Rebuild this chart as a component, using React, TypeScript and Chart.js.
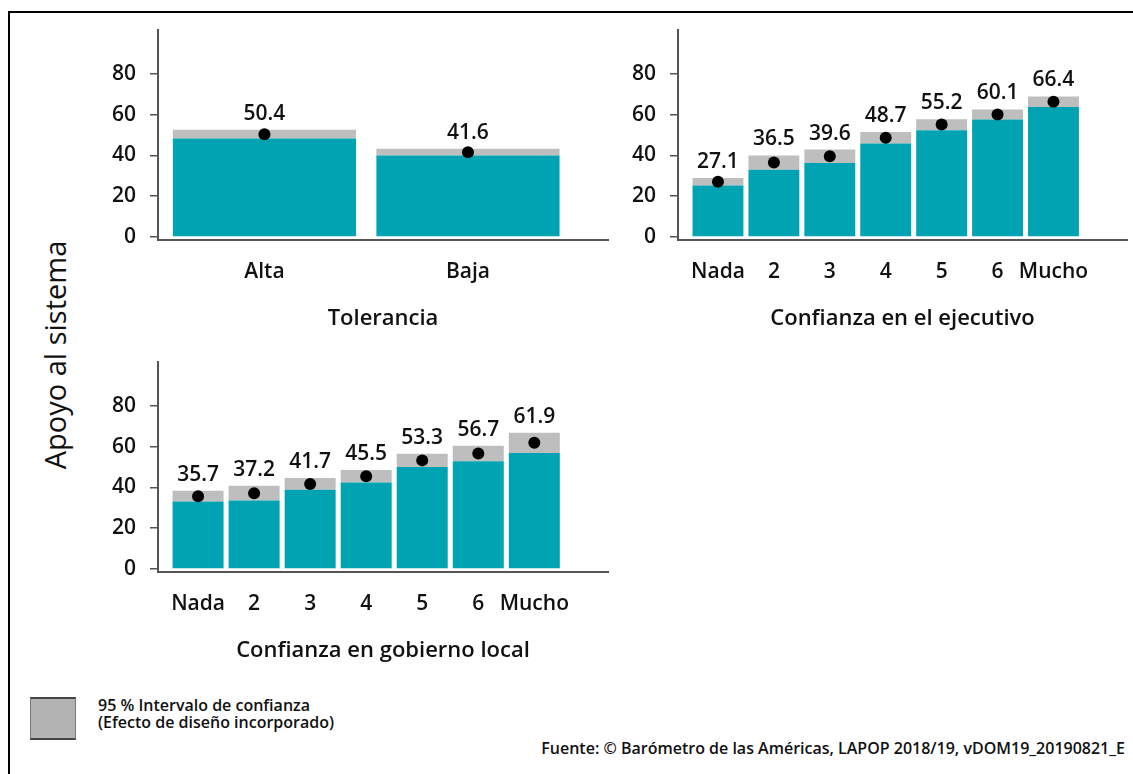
import React, { useEffect, useRef } from "react";
import { Chart, registerables } from "chart.js";

Chart.register(...registerables);

// ---------- Data ----------
const tolCategories = ["Alta", "Baja"];
const tolMeans = [50.4, 41.6];
const tolLower = [48.3, 40.0];
const tolUpper = [52.6, 43.3];

const ejeCategories = ["Nada", "2", "3", "4", "5", "6", "Mucho"];
const ejeMeans = [27.1, 36.5, 39.6, 48.7, 55.2, 60.1, 66.4];
const ejeLower = [25.2, 33.0, 36.3, 45.9, 52.4, 57.6, 63.8];
const ejeUpper = [29.0, 40.0, 42.9, 51.5, 57.8, 62.6, 69.0];

const locCategories = ["Nada", "2", "3", "4", "5", "6", "Mucho"];
const locMeans = [35.7, 37.2, 41.7, 45.5, 53.3, 56.7, 61.9];
const locLower = [33.1, 33.6, 38.9, 42.4, 50.1, 52.9, 56.9];
const locUpper = [38.4, 40.9, 44.6, 48.6, 56.6, 60.5, 66.9];

const yTicks = [0, 20, 40, 60, 80];

const TEAL = "#00A3B2";
const CI_GRAY = "#BEBEBE";
const AXIS = "#555555";
const FONT = "'Open Sans', 'DejaVu Sans', sans-serif";

type PanelProps = {
  categories: string[];
  means: number[];
  lower: number[];
  upper: number[];
  title: string;
  xMin: number;
  xMax: number;
  barPct: number;
  left: number;
  top: number;
  width: number;
  height: number;
  padRight: number;
};

function Panel(p: PanelProps) {
  const ref = useRef<HTMLCanvasElement | null>(null);
  useEffect(() => {
    if (!ref.current) return;
    const labelPlugin = {
      id: "valueLabels",
      afterDatasetsDraw(chart: any) {
        const ctx = chart.ctx;
        const xs = chart.scales.x;
        const ys = chart.scales.y;
        ctx.save();
        ctx.font = `600 21px ${FONT}`;
        ctx.fillStyle = "#111";
        ctx.textAlign = "center";
        ctx.textBaseline = "middle";
        p.means.forEach((m, i) => {
          ctx.fillText(m.toFixed(1), xs.getPixelForValue(i), ys.getPixelForValue(p.upper[i]) - 16);
        });
        ctx.restore();
      },
    };
    const chart = new Chart(ref.current, {
      type: "bar",
      data: {
        datasets: [
          {
            type: "line",
            data: p.means.map((m, i) => ({ x: i, y: m })),
            showLine: false,
            pointRadius: 6,
            pointHoverRadius: 6,
            pointBackgroundColor: "#000",
            pointBorderWidth: 0,
            borderColor: "#000",
            order: 0,
          } as any,
          {
            type: "bar",
            data: p.lower.map((v, i) => ({ x: i, y: v })),
            backgroundColor: TEAL,
            borderWidth: 0,
            grouped: false,
            barPercentage: p.barPct,
            categoryPercentage: 1,
            order: 1,
          } as any,
          {
            type: "bar",
            data: p.upper.map((u, i) => ({ x: i, y: [p.lower[i], u] })),
            backgroundColor: CI_GRAY,
            borderWidth: 0,
            grouped: false,
            barPercentage: p.barPct,
            categoryPercentage: 1,
            order: 1,
          } as any,
        ],
      },
      options: {
        animation: false,
        responsive: false,
        events: [],
        layout: { padding: { top: 10, right: p.padRight, left: 0, bottom: 0 } },
        plugins: { legend: { display: false }, tooltip: { enabled: false } },
        scales: {
          x: {
            type: "linear",
            min: p.xMin,
            max: p.xMax,
            offset: false,
            grid: { display: false, offset: false, drawTicks: false },
            border: { display: true, color: AXIS, width: 2 },
            afterBuildTicks: (scale: any) => {
              scale.ticks = p.categories.map((_, i) => ({ value: i }));
            },
            afterFit: (scale: any) => {
              scale.height = 100;
              scale.paddingLeft = 0;
              scale.paddingRight = 0;
            },
            ticks: {
              autoSkip: false,
              maxRotation: 0,
              padding: 19,
              color: "#111",
              font: { family: FONT, size: 21, weight: "600" },
              callback: (v: any) => p.categories[Math.round(Number(v))] ?? "",
            },
            title: {
              display: true,
              text: p.title,
              color: "#111",
              font: { family: FONT, size: 22, weight: "600" },
              padding: { top: 0, bottom: 8 },
            },
          } as any,
          y: {
            type: "linear",
            min: -1.5,
            max: 101.6,
            afterBuildTicks: (scale: any) => {
              scale.ticks = yTicks.map((v) => ({ value: v }));
            },
            afterFit: (scale: any) => {
              scale.width = 58;
              scale.paddingTop = 0;
              scale.paddingBottom = 0;
            },
            grid: {
              display: true,
              drawOnChartArea: false,
              drawTicks: true,
              tickLength: 8,
              color: AXIS,
              lineWidth: 1.5,
            },
            border: { display: true, color: AXIS, width: 2 },
            ticks: {
              padding: 14,
              color: "#111",
              font: { family: FONT, size: 21, weight: "600" },
            },
          } as any,
        },
      } as any,
      plugins: [labelPlugin],
    });
    return () => chart.destroy();
  }, []);
  return (
    <canvas
      ref={ref}
      width={p.width}
      height={p.height}
      style={{ position: "absolute", left: p.left, top: p.top, width: p.width, height: p.height }}
    />
  );
}

export default function App() {
  return (
    <div
      style={{
        position: "absolute",
        left: 0,
        top: 0,
        width: 1133,
        height: 774,
        overflow: "hidden",
        background: "#fff",
        fontFamily: FONT,
      }}
    >
      <div
        style={{
          position: "absolute",
          left: 8,
          top: 11,
          width: 1200,
          height: 800,
          borderLeft: "2px solid #000",
          borderTop: "2px solid #000",
        }}
      />
      <div
        style={{
          position: "absolute",
          left: 54,
          top: 355,
          transform: "translate(-50%, -50%) rotate(-90deg)",
          fontSize: 29,
          whiteSpace: "nowrap",
          color: "#111",
        }}
      >
        Apoyo al sistema
      </div>
      <Panel
        categories={tolCategories}
        means={tolMeans}
        lower={tolLower}
        upper={tolUpper}
        title="Tolerancia"
        xMin={-0.523}
        xMax={1.688}
        barPct={0.9}
        left={100}
        top={20}
        width={520}
        height={320}
        padRight={12}
      />
      <Panel
        categories={ejeCategories}
        means={ejeMeans}
        lower={ejeLower}
        upper={ejeUpper}
        title="Confianza en el ejecutivo"
        xMin={-0.715}
        xMax={7.315}
        barPct={0.91}
        left={620}
        top={20}
        width={513}
        height={320}
        padRight={6}
      />
      <Panel
        categories={locCategories}
        means={locMeans}
        lower={locLower}
        upper={locUpper}
        title="Confianza en gobierno local"
        xMin={-0.715}
        xMax={7.315}
        barPct={0.91}
        left={100}
        top={352}
        width={520}
        height={320}
        padRight={12}
      />
      <div
        style={{
          position: "absolute",
          left: 30,
          top: 697,
          width: 46,
          height: 43,
          boxSizing: "border-box",
          background: "#B3B3B3",
          borderTop: "2px solid #444",
          borderBottom: "2px solid #444",
          borderLeft: "1px solid #777",
          borderRight: "1px solid #777",
        }}
      />
      <div
        style={{
          position: "absolute",
          left: 98,
          top: 697,
          fontSize: 16,
          fontWeight: 600,
          lineHeight: "17px",
          color: "#111",
          whiteSpace: "nowrap",
        }}
      >
        95 % Intervalo de confianza
        <br />
        (Efecto de diseño incorporado)
      </div>
      <div
        style={{
          position: "absolute",
          right: 8,
          top: 737,
          fontSize: 16,
          fontWeight: 600,
          lineHeight: "22px",
          color: "#111",
          whiteSpace: "nowrap",
        }}
      >
        Fuente: © Barómetro de las Américas, LAPOP 2018/19, vDOM19_20190821_E
      </div>
    </div>
  );
}
